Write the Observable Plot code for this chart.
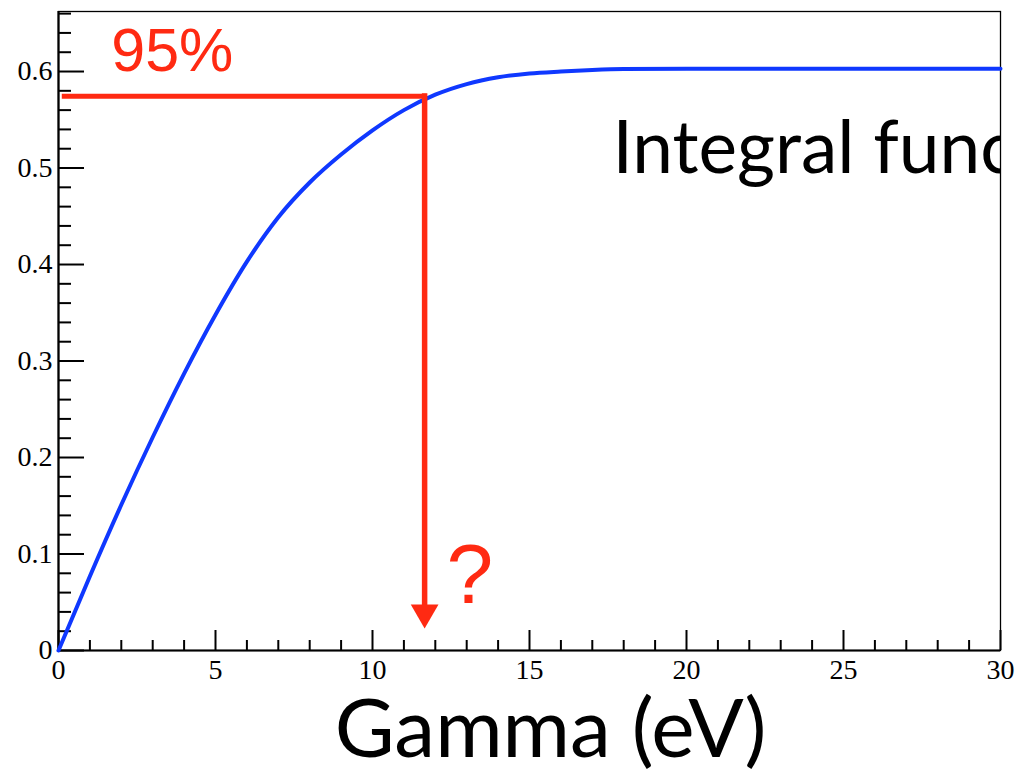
<!DOCTYPE html>
<html><head><meta charset="utf-8">
<script src="https://cdn.jsdelivr.net/npm/d3@7"></script>
<script src="https://cdn.jsdelivr.net/npm/@observablehq/plot@0.6"></script>
<style>html,body{margin:0;padding:0;background:#fff;} #chart svg{display:block;}</style>
</head><body><div id="chart"></div>
<script>
// Integral function curve
const gammaEV  = [0, 1, 2, 3, 4, 5, 6, 7, 8, 9, 10, 11, 12, 13, 14, 15, 16, 17, 18, 20, 25, 30];
const integral = [0, 0.077, 0.151, 0.221, 0.287, 0.348, 0.403, 0.449, 0.485, 0.514, 0.539, 0.560, 0.576, 0.587, 0.594, 0.598, 0.600, 0.6015, 0.6025, 0.603, 0.603, 0.603];

// Tick values
const xMajorTicks = [0, 5, 10, 15, 20, 25, 30];
const xMinorTicks = [1, 2, 3, 4, 6, 7, 8, 9, 11, 12, 13, 14, 16, 17, 18, 19, 21, 22, 23, 24, 26, 27, 28, 29];
const yMajorTicks = [0, 0.1, 0.2, 0.3, 0.4, 0.5, 0.6];
const yMinorTicks = [0.02, 0.04, 0.06, 0.08, 0.12, 0.14, 0.16, 0.18, 0.22, 0.24, 0.26, 0.28, 0.32, 0.34, 0.36, 0.38,
                     0.42, 0.44, 0.46, 0.48, 0.52, 0.54, 0.56, 0.58, 0.62, 0.64, 0.66];
const yTickLabels = ["0", "0.1", "0.2", "0.3", "0.4", "0.5", "0.6"];

// 95% guide annotation
const level95 = 0.5744;
const gamma95 = 11.66;
const guideStartX = 0.12;
const arrowBaseY = 0.046;
const arrowHeadY = 0.0394;

// Text annotations
const pctLabel = [{text: "95%", x: 1.68, y: 0.601}];
const qLabel = [{text: "?", x: 12.36, y: 0.0497}];
const blackLabels = [{text: "Integral function", x: 17.64, y: 0.495}];
const xTitle = "Gamma (eV)";

const curve = gammaEV.map((g, i) => ({g, v: integral[i]}));
const RED = "#ff2a12", BLUE = "#0f38ff";

const chart = Plot.plot({
  width: 1017, height: 773,
  marginLeft: 58, marginRight: 17, marginTop: 11, marginBottom: 123,
  x: {domain: [0, 30]},
  y: {domain: [0, 0.6622]},
  style: {fontFamily: "Liberation Serif", background: "white", color: "black"},
  marks: [
    Plot.frame({stroke: "black", strokeWidth: 1.3}),
    Plot.ruleX([0], {stroke: "black", strokeWidth: 2.2}),
    Plot.ruleY([0], {stroke: "black", strokeWidth: 2.2}),
    // y ticks (inward)
    Plot.axisY(yMajorTicks, {anchor: "left", tickSize: -26, strokeWidth: 2, fill: "none", label: null}),
    Plot.axisY(yMinorTicks, {anchor: "left", tickSize: -13, strokeWidth: 2, fill: "none", label: null}),
    Plot.axisY(yMajorTicks, {anchor: "left", tickSize: 0, tickPadding: 6, fontSize: 28, tickFormat: (d, i) => yTickLabels[i], label: null}),
    // x ticks (inward)
    Plot.axisX(xMajorTicks, {anchor: "bottom", tickSize: -20, strokeWidth: 2, fill: "none", label: null}),
    Plot.axisX(xMinorTicks, {anchor: "bottom", tickSize: -10, strokeWidth: 2, fill: "none", label: null}),
    Plot.axisX(xMajorTicks, {anchor: "bottom", tickSize: 0, tickPadding: 9, fontSize: 28, tickFormat: d => String(d), label: null}),
    // curve
    Plot.line(curve, {x: "g", y: "v", stroke: BLUE, strokeWidth: 4, curve: "monotone-x"}),
    // 95% guide
    Plot.ruleY([level95], {x1: guideStartX, x2: gamma95 + 0.08, stroke: RED, strokeWidth: 5}),
    Plot.ruleX([gamma95], {y1: level95 + 0.0025, y2: arrowBaseY, stroke: RED, strokeWidth: 5.5}),
    Plot.dot([{x: gamma95, y: arrowHeadY}], {x: "x", y: "y", symbol: "triangle", r: 10.3, rotate: 180, fill: RED, stroke: "none"}),
    // texts
    Plot.text(pctLabel, {x: "x", y: "y", text: "text", fill: RED, fontSize: 61, fontFamily: "Liberation Sans", textAnchor: "start", lineAnchor: "bottom"}),
    Plot.text(qLabel, {x: "x", y: "y", text: "text", fill: RED, fontSize: 84, fontFamily: "Liberation Sans", textAnchor: "start", lineAnchor: "bottom"}),
    Plot.text(blackLabels, {x: "x", y: "y", text: "text", fill: "black", fontSize: 73, fontFamily: "Lato", textAnchor: "start", lineAnchor: "bottom", clip: true}),
    Plot.text([xTitle], {frameAnchor: "bottom", dx: 21, dy: 106, fontSize: 82, fontFamily: "Lato", fill: "black", lineAnchor: "bottom"})
  ]
});
document.getElementById("chart").appendChild(chart);
</script>
</body></html>
